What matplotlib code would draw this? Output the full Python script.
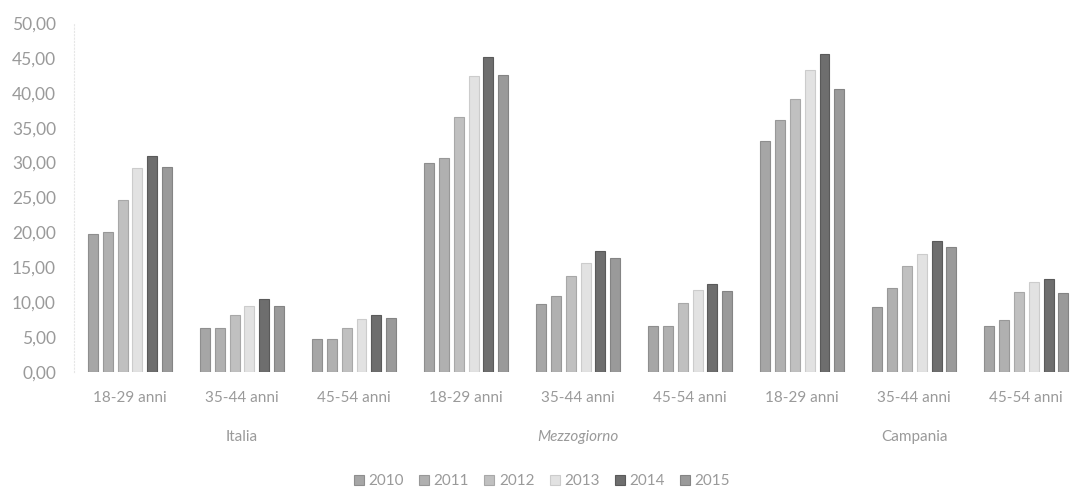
import matplotlib
matplotlib.use("Agg")
import matplotlib.pyplot as plt
import numpy as np

regions = ["Italia", "Mezzogiorno", "Campania"]
ages = ["18-29 anni", "35-44 anni", "45-54 anni"]
years = ["2010", "2011", "2012", "2013", "2014", "2015"]

# values per year, ordered: Italia(18-29,35-44,45-54), Mezzogiorno(...), Campania(...)
v2010 = [19.8, 6.3, 4.7, 29.9, 9.7, 6.6, 33.1, 9.3, 6.6]
v2011 = [20.0, 6.3, 4.7, 30.7, 10.9, 6.6, 36.1, 12.0, 7.4]
v2012 = [24.7, 8.2, 6.3, 36.6, 13.7, 9.9, 39.1, 15.2, 11.4]
v2013 = [29.2, 9.5, 7.6, 42.4, 15.6, 11.8, 43.2, 16.9, 12.9]
v2014 = [31.0, 10.4, 8.2, 45.2, 17.4, 12.6, 45.6, 18.7, 13.3]
v2015 = [29.4, 9.5, 7.7, 42.5, 16.3, 11.6, 40.6, 17.9, 11.3]
series = [v2010, v2011, v2012, v2013, v2014, v2015]

colors = ["#a6a6a6", "#b0b0b0", "#c0c0c0", "#e2e2e2", "#6e6e6e", "#9a9a9a"]
edges = ["#8e8e8e", "#989898", "#a8a8a8", "#cccccc", "#5a5a5a", "#848484"]

FONT = ["Lato", "DejaVu Sans"]
plt.rcParams["font.family"] = FONT

W, H = 1071, 492
fig = plt.figure(figsize=(W / 100, H / 100), dpi=100)
ax = fig.add_axes([74 / W, 1 - 372 / H, (1071 - 74) / W, (372 - 23) / H])

n = len(regions) * len(ages)
x = np.arange(n)
period = 0.133
bw = 0.089
for i, (vals, c, ec) in enumerate(zip(series, colors, edges)):
    ax.bar(x + (i - 2.5) * period, vals, width=bw, color=c, edgecolor=ec,
           linewidth=0.8, label=years[i], zorder=3)

ax.set_xlim(-0.5, 8.4)
ax.set_ylim(0, 50)
ax.set_yticks(np.arange(0, 51, 5))
ax.set_yticklabels([f"{t:.2f}".replace(".", ",") for t in np.arange(0, 51, 5)])
for s in ["top", "right", "bottom"]:
    ax.spines[s].set_visible(False)
ax.spines["left"].set_color("#e6e6e6")
ax.spines["left"].set_linestyle((0, (1, 2)))
ax.tick_params(axis="y", length=0, pad=13, labelsize=12.5, labelcolor="#9a9a9a")
ax.tick_params(axis="x", length=0, pad=14, labelsize=11, labelcolor="#9a9a9a")
ax.set_xticks(x)
ax.set_xticklabels(ages * len(regions))

for r, name in enumerate(regions):
    cx = r * 3 + 1
    ax.text(cx, -9.3, name, ha="center", va="center", fontsize=11,
            color="#9a9a9a",
            style="italic" if name == "Mezzogiorno" else "normal")

leg = fig.legend(loc="center", bbox_to_anchor=(542 / W, 1 - 481 / H), ncol=6,
                 frameon=False, handlelength=0.65, handleheight=0.65,
                 handletextpad=0.3, columnspacing=1.0,
                 prop={"size": 11})
for t in leg.get_texts():
    t.set_color("#9a9a9a")

fig.savefig("out.png", dpi=100)
